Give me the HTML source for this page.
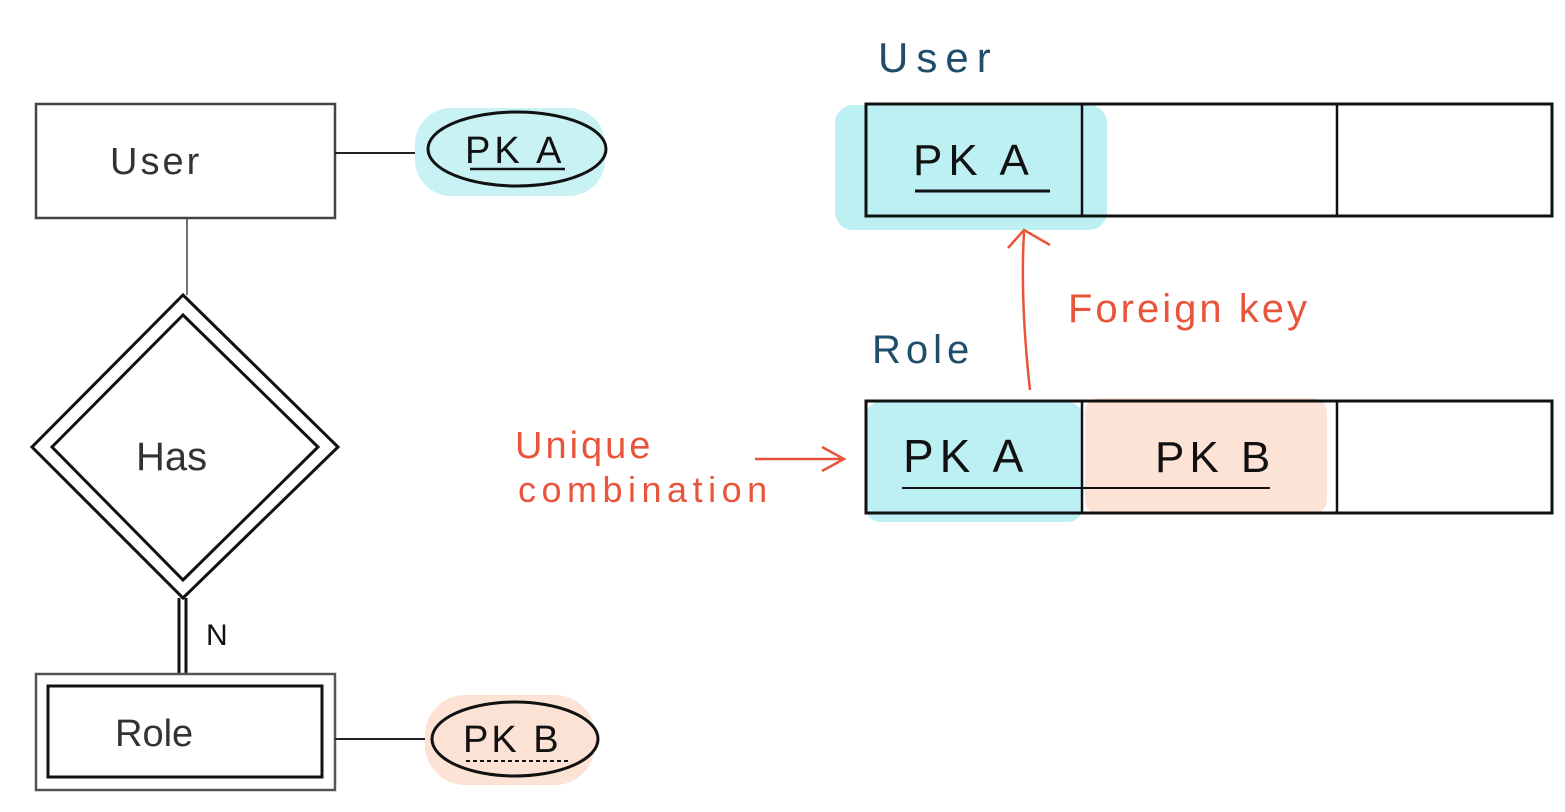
<!DOCTYPE html>
<html><head><meta charset="utf-8"><style>
html,body{margin:0;padding:0;background:#fff;}
svg{display:block;}
text{font-family:"Liberation Sans",sans-serif;}
</style></head><body>
<svg width="1565" height="812" viewBox="0 0 1565 812" xmlns="http://www.w3.org/2000/svg">
<rect x="36" y="104" width="299" height="114" fill="none" stroke="#444" stroke-width="2.5"/>
<text x="110" y="174" font-size="38" fill="#333" letter-spacing="3">User</text>
<line x1="335" y1="153" x2="428" y2="153" stroke="#222" stroke-width="2"/>
<rect x="415" y="108" width="190" height="88" rx="36" fill="#c9f2f5"/>
<ellipse cx="517" cy="149" rx="89" ry="37" fill="#c9f2f5" stroke="#111" stroke-width="3"/>
<text x="465" y="163" font-size="38" fill="#111" letter-spacing="4">PK A</text>
<line x1="470" y1="169" x2="565" y2="169" stroke="#111" stroke-width="2.5"/>
<line x1="187" y1="218" x2="187" y2="295" stroke="#444" stroke-width="1.5"/>
<polygon points="183,295 338,447 183,598 32,447" fill="#fff" stroke="#111" stroke-width="3"/>
<polygon points="183,315 318,447 183,580 52,447" fill="none" stroke="#111" stroke-width="3"/>
<text x="136" y="470" font-size="40" fill="#333">Has</text>
<line x1="179" y1="598" x2="179" y2="674" stroke="#111" stroke-width="3"/>
<line x1="186" y1="598" x2="186" y2="674" stroke="#111" stroke-width="3"/>
<text x="206" y="645" font-size="30" fill="#111">N</text>
<rect x="36" y="674" width="299" height="116" fill="none" stroke="#555" stroke-width="2.5"/>
<rect x="48" y="686" width="274" height="91" fill="none" stroke="#111" stroke-width="3"/>
<text x="115" y="746" font-size="38" fill="#333">Role</text>
<line x1="335" y1="739" x2="432" y2="739" stroke="#222" stroke-width="2"/>
<rect x="425" y="695" width="170" height="90" rx="40" fill="#fde3d5"/>
<ellipse cx="515" cy="739" rx="83" ry="37" fill="#fbe2d4" stroke="#111" stroke-width="3"/>
<text x="463" y="752" font-size="38" fill="#111" letter-spacing="3">PK B</text>
<line x1="466" y1="761" x2="570" y2="761" stroke="#111" stroke-width="2" stroke-dasharray="4,3"/>
<text x="878" y="72" font-size="42" fill="#1f4e6b" letter-spacing="8">User</text>
<rect x="835" y="105" width="272" height="125" rx="18" fill="#bdf0f3"/>
<rect x="866" y="104" width="686" height="112" fill="none" stroke="#111" stroke-width="3"/>
<line x1="1082" y1="104" x2="1082" y2="216" stroke="#111" stroke-width="2.5"/>
<line x1="1337" y1="104" x2="1337" y2="216" stroke="#111" stroke-width="2.5"/>
<text x="913" y="175" font-size="44" fill="#111" letter-spacing="6">PK A</text>
<line x1="915" y1="191" x2="1050" y2="191" stroke="#111" stroke-width="3"/>
<path d="M1030,390 Q1020,300 1024,232" fill="none" stroke="#e8553a" stroke-width="2.5"/>
<path d="M1008,248 L1024,230 L1050,245" fill="none" stroke="#e8553a" stroke-width="2.5"/>
<text x="1068" y="322" font-size="40" fill="#e8553a" letter-spacing="3">Foreign key</text>
<text x="872" y="363" font-size="40" fill="#1f4e6b" letter-spacing="5">Role</text>
<rect x="866" y="402" width="216" height="120" rx="14" fill="#bdf0f3"/>
<rect x="1085" y="398" width="242" height="116" rx="14" fill="#fde3d5"/>
<rect x="866" y="401" width="686" height="112" fill="none" stroke="#111" stroke-width="3"/>
<line x1="1082" y1="401" x2="1082" y2="513" stroke="#111" stroke-width="2.5"/>
<line x1="1337" y1="401" x2="1337" y2="513" stroke="#111" stroke-width="2.5"/>
<text x="903" y="472" font-size="46" fill="#111" letter-spacing="6">PK A</text>
<text x="1155" y="472" font-size="44" fill="#111" letter-spacing="5">PK B</text>
<line x1="902" y1="488" x2="1270" y2="488" stroke="#111" stroke-width="2"/>
<text x="515" y="458" font-size="38" fill="#e8553a" letter-spacing="3">Unique</text>
<text x="518" y="502" font-size="36" fill="#e8553a" letter-spacing="5.5">combination</text>
<line x1="755" y1="459" x2="843" y2="459" stroke="#e8553a" stroke-width="2.5"/>
<path d="M822,447 L844,459 L822,471" fill="none" stroke="#e8553a" stroke-width="2.5"/>
</svg>
</body></html>
